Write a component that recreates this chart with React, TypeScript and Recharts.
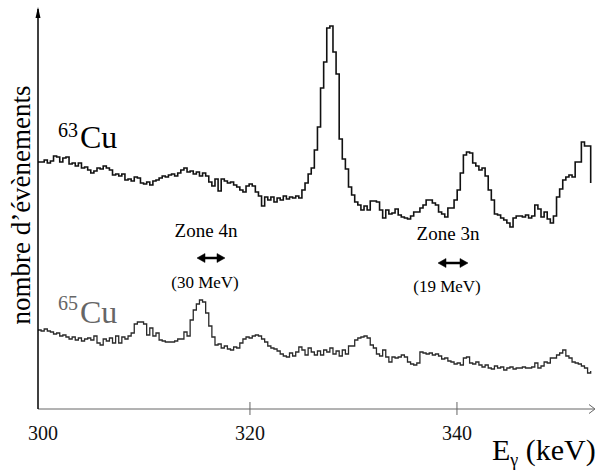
import React from 'react';
import { LineChart, Line, XAxis, YAxis } from 'recharts';

// histogram bins (keV)
const binStart = 299.52;
const binWidth = 0.3;

// counts per bin, 63Cu
const cu63 = [
  247, 247, 249, 246, 248, 253, 252, 247, 251, 252,
  245, 246, 243, 246, 241, 242, 239, 236, 238, 241,
  240, 243, 241, 239, 234, 235, 233, 235, 229, 230,
  228, 232, 231, 226, 225, 227, 224, 228, 229, 231,
  233, 232, 234, 235, 233, 236, 239, 241, 237, 238,
  235, 237, 233, 236, 233, 227, 223, 230, 218, 230,
  228, 226, 227, 224, 222, 219, 217, 223, 225, 223,
  217, 213, 203, 212, 209, 212, 207, 211, 209, 213,
  210, 212, 211, 213, 211, 219, 226, 235, 241, 259,
  282, 321, 347, 381, 383, 357, 335, 270, 250, 240,
  222, 214, 207, 204, 199, 203, 199, 208, 208, 207,
  199, 191, 199, 195, 196, 200, 194, 192, 191, 190,
  193, 197, 197, 201, 204, 209, 209, 206, 204, 197,
  195, 192, 201, 201, 209, 219, 236, 254, 257, 256,
  246, 243, 239, 241, 233, 219, 209, 195, 194, 191,
  189, 186, 182, 191, 193, 193, 192, 194, 191, 193,
  204, 200, 192, 197, 190, 186, 193, 212, 220, 229,
  232, 234, 232, 247, 247, 267, 263, 263, 226,
];

// counts per bin, 65Cu
const cu65 = [
  79, 78, 80, 78, 77, 75, 76, 73, 74, 72,
  70, 72, 69, 71, 68, 70, 71, 69, 73, 66,
  64, 70, 68, 71, 66, 73, 66, 72, 70, 73,
  76, 85, 87, 87, 85, 74, 81, 73, 76, 69,
  68, 67, 67, 67, 68, 70, 70, 77, 73, 89,
  99, 105, 109, 107, 96, 83, 72, 64, 65, 61,
  63, 60, 59, 62, 61, 66, 70, 72, 71, 73,
  74, 73, 70, 67, 63, 61, 60, 58, 55, 53,
  52, 56, 53, 57, 62, 59, 54, 61, 57, 54,
  58, 54, 59, 57, 61, 55, 58, 53, 59, 55,
  63, 63, 69, 71, 72, 73, 71, 64, 61, 55,
  53, 59, 52, 47, 52, 51, 52, 54, 52, 47,
  45, 44, 46, 57, 56, 55, 56, 54, 55, 53,
  50, 51, 48, 47, 45, 46, 44, 51, 52, 46,
  45, 47, 44, 42, 44, 41, 40, 43, 41, 42,
  39, 41, 42, 40, 41, 41, 42, 41, 41, 42,
  46, 41, 43, 47, 46, 51, 51, 54, 56, 59,
  53, 51, 47, 46, 45, 43, 41, 36, 38,
];

const xTicks = [300, 320, 340];

const data = cu63.map((v, i) => ({
  e: +(binStart + i * binWidth).toFixed(2),
  cu63: v,
  cu65: cu65[i],
}));

const serif = '"Liberation Serif", "Times New Roman", serif';

const EnergyTick = (props: any) => {
  const { x, y, payload } = props;
  return (
    <g>
      {payload.value !== 300 && (
        <line x1={x} x2={x} y1={y - 7} y2={y + 6} stroke="#666" strokeWidth={1} />
      )}
      <text x={x} y={y + 31} textAnchor="middle" fontSize={20} fill="#111" fontFamily={serif}>
        {payload.value}
      </text>
    </g>
  );
};

// double-headed arrow for the zone markers
const DoubleArrow = ({ x1, x2, y }: { x1: number; x2: number; y: number }) => (
  <g fill="#000" stroke="#000">
    <line x1={x1 + 6} x2={x2 - 6} y1={y} y2={y} strokeWidth={2.5} />
    <polygon points={`${x1},${y} ${x1 + 8},${y - 4.5} ${x1 + 8},${y + 4.5}`} strokeWidth={0.5} />
    <polygon points={`${x2},${y} ${x2 - 8},${y - 4.5} ${x2 - 8},${y + 4.5}`} strokeWidth={0.5} />
  </g>
);

export default function App() {
  return (
    <div style={{ position: 'absolute', left: 0, top: 0, width: 596, height: 474, background: '#fff' }}>
      <LineChart width={596} height={474} data={data} margin={{ top: 9, right: 2, bottom: 0, left: 0 }}>
        <XAxis
          dataKey="e"
          type="number"
          domain={[299.52, 353.24]}
          ticks={xTicks}
          allowDataOverflow
          height={65}
          tickSize={0}
          tickMargin={0}
          tickLine={false}
          axisLine={{ stroke: '#666', strokeWidth: 1 }}
          tick={<EnergyTick />}
        />
        <YAxis
          type="number"
          domain={[0, 400]}
          width={38}
          tick={false}
          tickLine={false}
          axisLine={{ stroke: '#000', strokeWidth: 1.5 }}
        />
        <Line
          type="stepAfter"
          dataKey="cu63"
          stroke="#111"
          strokeWidth={1.6}
          dot={false}
          isAnimationActive={false}
        />
        <Line
          type="stepAfter"
          dataKey="cu65"
          stroke="#2a2a2a"
          strokeWidth={1.3}
          dot={false}
          isAnimationActive={false}
        />
      </LineChart>

      <svg
        width={596}
        height={474}
        style={{ position: 'absolute', left: 0, top: 0, pointerEvents: 'none' }}
        fontFamily={serif}
      >
        {/* axis arrow heads */}
        <polygon points="38,7 35.5,18 40.5,18" fill="#000" />
        <polyline points="589,404.5 595,409 589,413.5" fill="none" stroke="#666" strokeWidth={1} />

        <text
          transform="translate(30,205) rotate(-90)"
          textAnchor="middle"
          fontSize={27}
          fill="#000"
        >
          nombre d’évènements
        </text>

        <text x={58} y={137} fontSize={20} fill="#000">63</text>
        <text x={80} y={148} fontSize={32} fill="#000">Cu</text>
        <text x={58} y={310} fontSize={20} fill="#666">65</text>
        <text x={80} y={323} fontSize={32} fill="#666">Cu</text>

        <text x={206} y={237} textAnchor="middle" fontSize={19} fill="#000">Zone 4n</text>
        <DoubleArrow x1={197} x2={225} y={258} />
        <text x={205} y={288} textAnchor="middle" fontSize={17} fill="#000">(30 MeV)</text>

        <text x={448} y={240} textAnchor="middle" fontSize={19} fill="#000">Zone 3n</text>
        <DoubleArrow x1={438} x2={468} y={263} />
        <text x={447} y={292} textAnchor="middle" fontSize={17} fill="#000">(19 MeV)</text>

        <text x={492} y={460} fontSize={30} fill="#000">
          E<tspan fontSize={18} dy={6}>γ</tspan>
          <tspan dy={-6}> (keV)</tspan>
        </text>
      </svg>
    </div>
  );
}
